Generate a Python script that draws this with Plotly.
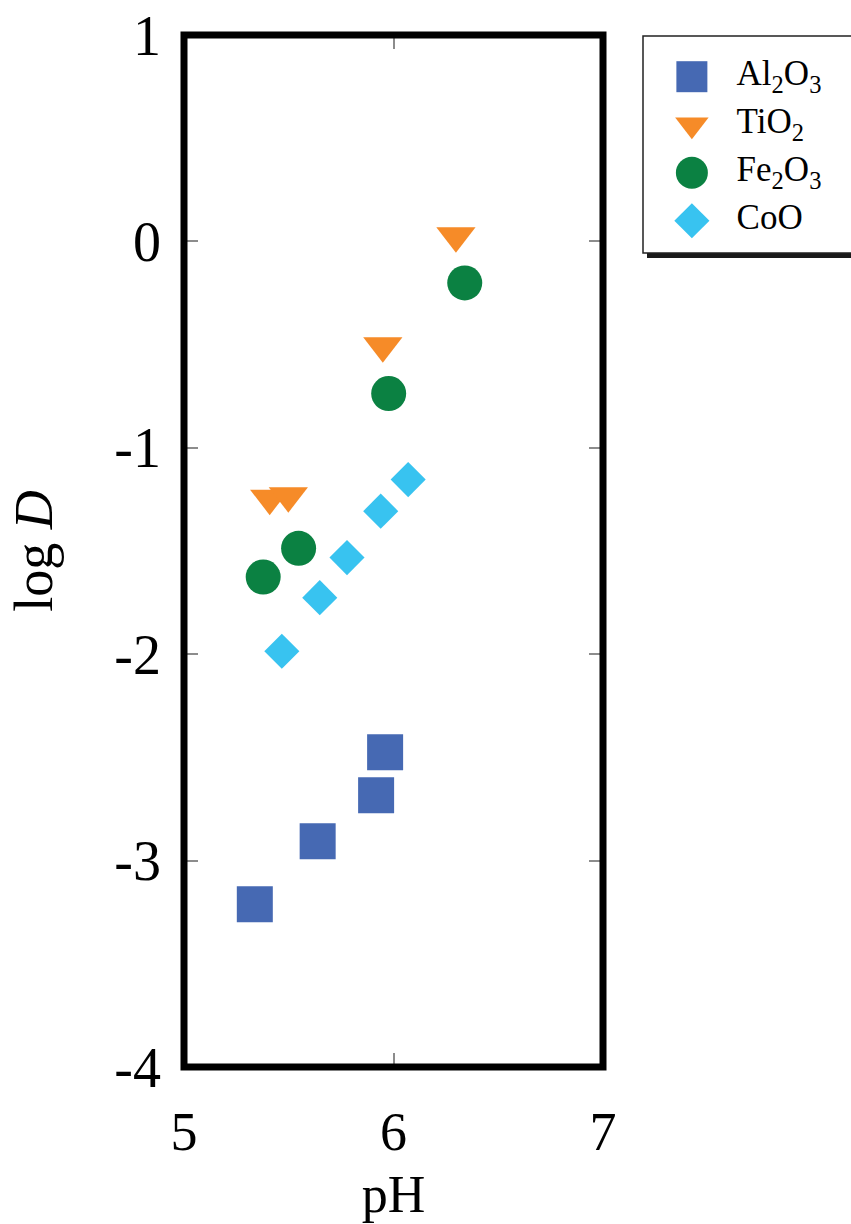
import plotly.graph_objects as go

# ---- data ----
series_names = ["Al<sub>2</sub>O<sub>3</sub>", "TiO<sub>2</sub>", "Fe<sub>2</sub>O<sub>3</sub>", "CoO"]
al2o3_ph = [5.338, 5.638, 5.917, 5.960]
al2o3_logd = [-3.212, -2.906, -2.683, -2.475]
tio2_ph = [5.409, 5.498, 5.949, 6.298]
tio2_logd = [-1.244, -1.232, -0.506, 0.027]
fe2o3_ph = [5.378, 5.547, 5.977, 6.340]
fe2o3_logd = [-1.626, -1.487, -0.737, -0.201]
coo_ph = [5.467, 5.648, 5.778, 5.939, 6.070]
coo_logd = [-1.986, -1.726, -1.532, -1.307, -1.154]

x_range = [5, 7]
y_range = [-4, 1]
x_tick_vals = [5, 6, 7]
x_tick_text = ["5", "6", "7"]
y_tick_vals = [-4, -3, -2, -1, 0, 1]
y_tick_text = ["-4", "-3", "-2", "-1", "0", "1"]

colors = ["#4669B3", "#F68B28", "#0B8142", "#38C3F0"]
symbols = ["square", "triangle-down", "circle", "diamond"]
sizes = [36, 34, 35, 27]
legend_sizes = [31, 29, 32, 27]

xs = [al2o3_ph, tio2_ph, fe2o3_ph, coo_ph]
ys = [al2o3_logd, tio2_logd, fe2o3_logd, coo_logd]

FONT = "Liberation Serif"

fig = go.Figure()
for name, x, y, c, s, sz in zip(series_names, xs, ys, colors, symbols, sizes):
    fig.add_trace(go.Scatter(
        x=x, y=y, mode="markers", name=name, showlegend=False,
        marker=dict(symbol=s, size=sz, color=c, line=dict(width=0)),
        xaxis="x", yaxis="y"))

# empty trace so the top/right tick axes get a subplot
fig.add_trace(go.Scatter(x=[], y=[], xaxis="x3", yaxis="y3", showlegend=False, hoverinfo="skip"))

# legend drawn as a small subplot
rows = list(range(len(series_names)))
for i, (name, c, s, sz) in enumerate(zip(series_names, colors, symbols, legend_sizes)):
    fig.add_trace(go.Scatter(
        x=[0.235], y=[rows[i]], mode="markers", showlegend=False,
        marker=dict(symbol=s, size=sz, color=c, line=dict(width=0)),
        xaxis="x2", yaxis="y2", hoverinfo="skip"))
fig.add_trace(go.Scatter(
    x=[0.45] * len(rows), y=rows, mode="text", text=series_names,
    textposition="middle right", showlegend=False, cliponaxis=False,
    textfont=dict(family=FONT, size=35, color="black"),
    xaxis="x2", yaxis="y2", hoverinfo="skip"))

W, H = 851, 1224
ml, mt, mb, mr = 184, 35, 157, 0
pw = W - ml - mr
ph = H - mt - mb
main_right = (603 - ml) / pw
leg_left = (643 - ml) / pw
leg_top = (H - mb - 36) / ph
leg_bot = (H - mb - 253) / ph

tick_style = dict(ticks="inside", ticklen=14, tickwidth=1.5, tickcolor="#8c8c8c",
                  showline=False, showgrid=False, zeroline=False, automargin=False)

fig.update_layout(
    template="none",
    width=W, height=H, autosize=False,
    margin=dict(l=ml, r=mr, t=mt, b=mb, pad=0, autoexpand=False),
    paper_bgcolor="white", plot_bgcolor="rgba(0,0,0,0)",
    font=dict(family=FONT, color="black"),
    xaxis=dict(domain=[0, main_right], range=x_range, tickvals=x_tick_vals, ticktext=x_tick_text,
               **tick_style,
               tickfont=dict(family=FONT, size=54, color="black"), ticklabelstandoff=28,
               title=dict(text="pH", font=dict(family=FONT, size=52), standoff=14)),
    yaxis=dict(domain=[0, 1], range=y_range, tickvals=y_tick_vals, ticktext=y_tick_text,
               **tick_style,
               tickfont=dict(family=FONT, size=56, color="black"), ticklabelstandoff=22,
               title=dict(text="log <i>D</i>", font=dict(family=FONT, size=54), standoff=44)),
    xaxis3=dict(overlaying="x", anchor="y", side="top", range=x_range, tickvals=x_tick_vals,
                showticklabels=False, **tick_style),
    yaxis3=dict(overlaying="y", anchor="x", side="right", range=y_range, tickvals=y_tick_vals,
                showticklabels=False, **tick_style),
    xaxis2=dict(domain=[leg_left, 1], range=[0, 1], visible=False, fixedrange=True, automargin=False),
    yaxis2=dict(domain=[leg_bot, leg_top], range=[3.673, -0.848], visible=False, fixedrange=True,
                automargin=False),
    shapes=[
        dict(type="rect", xref="paper", yref="paper",
             x0=leg_left + 4 / pw, x1=1.1, y0=leg_bot - 5 / ph, y1=leg_top - 5 / ph,
             fillcolor="#1a1a1a", line=dict(width=0), layer="below"),
        dict(type="rect", xref="paper", yref="paper",
             x0=leg_left, x1=1.05, y0=leg_bot, y1=leg_top,
             fillcolor="white", line=dict(color="#222", width=1.5), layer="below"),
        dict(type="rect", xref="x domain", yref="y domain", x0=0, x1=1, y0=0, y1=1,
             line=dict(color="black", width=7), layer="above"),
    ],
)

fig.write_html("out.html")
